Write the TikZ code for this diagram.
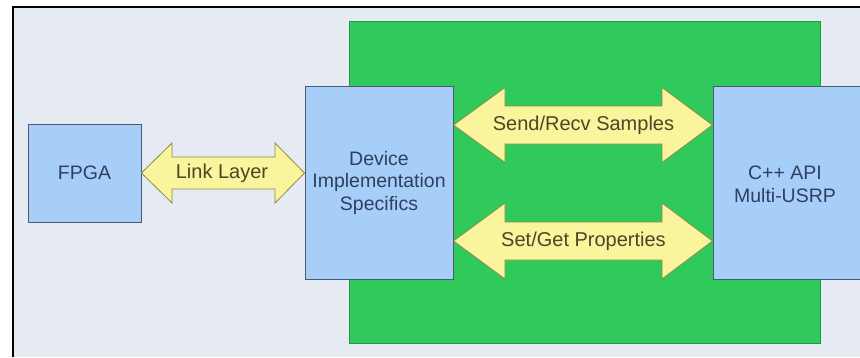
\documentclass[tikz,border=0pt]{standalone}
\usepackage{fontspec}
\setmainfont{Liberation Sans}
\begin{document}
\begin{tikzpicture}[x=1pt,y=-1pt,
  blockbox/.style={draw=boxline,fill=boxfill,line width=1pt,text=boxtext,align=center,inner sep=0pt,font=\fontsize{19.5}{22.5}\selectfont},
  flowarrow/.style={draw=arrline,fill=arrfill,line width=0.8pt,line join=miter},
  flowlabel/.style={text=arrtext,font=\fontsize{20}{22}\selectfont,inner sep=0pt}]
\definecolor{bgfill}{HTML}{E6EAF2}
\definecolor{greenfill}{HTML}{2FC95C}
\definecolor{greenline}{HTML}{1E9A40}
\definecolor{boxfill}{HTML}{A6CEF8}
\definecolor{boxline}{HTML}{4C5A6E}
\definecolor{boxtext}{HTML}{2E4060}
\definecolor{arrfill}{HTML}{FAF49C}
\definecolor{arrline}{HTML}{8C8A48}
\definecolor{arrtext}{HTML}{4A4626}
\useasboundingbox (0,0) rectangle (860,357);
\fill[white] (0,0) rectangle (860,357);
% panel background with its top and left rules
\fill[bgfill] (13,7) rectangle (860,357);
\draw[black,line width=2pt] (860,7) -- (13,7) -- (13,357);
% host-side area
\draw[greenline,fill=greenfill,line width=0.8pt] (349,21) rectangle (820,343);
% blocks
\node[blockbox,minimum width=113,minimum height=98] (fpga) at (84.5,173) {FPGA};
\node[blockbox,minimum width=148,minimum height=193] (dev) at (379,182.5) {Device\\Implementation\\Specifics};
\node[blockbox,minimum width=160,minimum height=193] (api) at (793,182.5) {};
\node[text=boxtext,font=\fontsize{19.5}{23}\selectfont,align=center,inner sep=0pt] (apitext) at (785,184) {C++ API\\Multi-USRP};
% link layer arrow: FPGA <-> device
\draw[flowarrow] (fpga.east) -- (172,143) -- (172,157) -- (275,157) -- (275,143) -- (dev.west |- fpga.east)
  -- (275,203) -- (275,189) -- (172,189) -- (172,203) -- cycle;
\node[flowlabel] (link) at (222,173) {Link Layer};
% sample streaming arrow
\coordinate (sL) at (dev.east |- 0,125);
\coordinate (sR) at (api.west |- 0,125);
\draw[flowarrow] (sL) -- (505,87.5) -- (505,106) -- (662,106) -- (662,87.5) -- (sR)
  -- (662,162.5) -- (662,144) -- (505,144) -- (505,162.5) -- cycle;
\node[flowlabel] (send) at (583.5,125) {Send/Recv Samples};
% property access arrow
\coordinate (pL) at (dev.east |- 0,241);
\coordinate (pR) at (api.west |- 0,241);
\draw[flowarrow] (pL) -- (505,203) -- (505,222) -- (662,222) -- (662,203) -- (pR)
  -- (662,279) -- (662,260) -- (505,260) -- (505,279) -- cycle;
\node[flowlabel] (props) at (583.5,241) {Set/Get Properties};
\end{tikzpicture}
\end{document}
